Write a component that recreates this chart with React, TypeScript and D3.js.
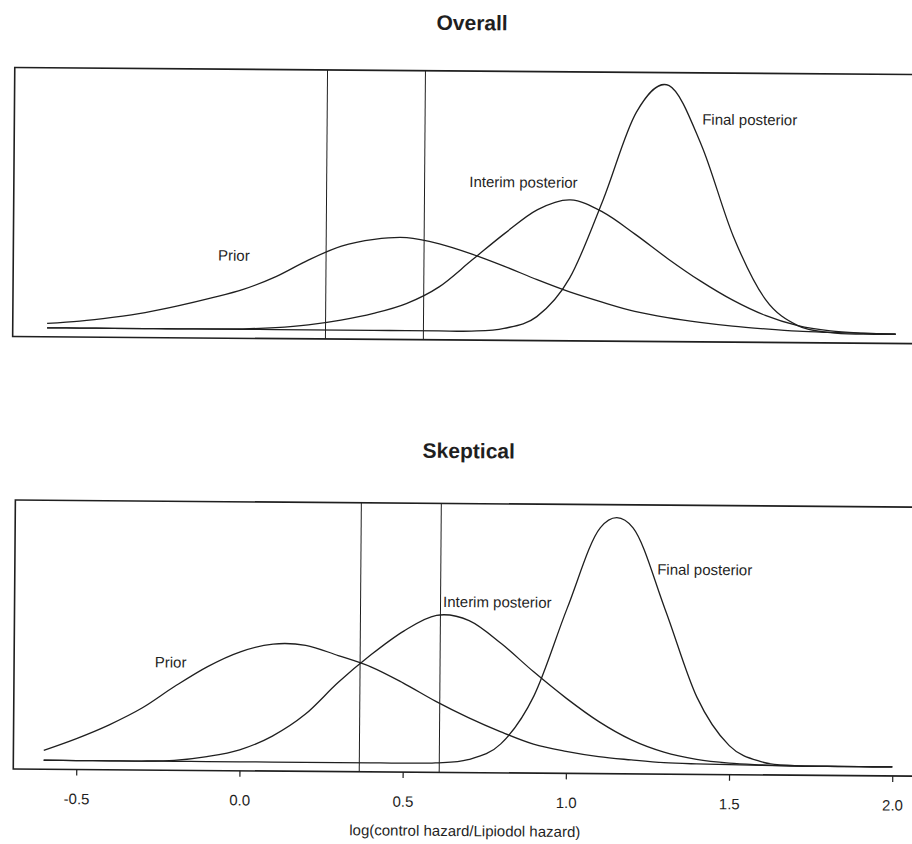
import { useEffect, useRef } from 'react'
import * as d3 from 'd3'

// log(control hazard / Lipiodol hazard) grid the densities were read at
const logHR = [
  -0.6, -0.5, -0.4, -0.3, -0.2, -0.1, 0.0, 0.1, 0.2, 0.3, 0.4, 0.5, 0.6, 0.7,
  0.8, 0.9, 1.0, 1.1, 1.2, 1.3, 1.4, 1.5, 1.6, 1.7, 1.8, 1.9, 2.0,
]

const curveNames = ['Prior', 'Interim posterior', 'Final posterior']

// Overall panel
const overallPrior = [
  0.045, 0.07, 0.11, 0.16, 0.23, 0.31, 0.4, 0.53, 0.7, 0.84, 0.91, 0.93, 0.87,
  0.77, 0.65, 0.52, 0.4, 0.3, 0.21, 0.15, 0.105, 0.07, 0.045, 0.025, 0.015,
  0.008, 0.005,
]
const overallInterim = [
  0, 0, 0, 0, 0, 0.002, 0.005, 0.02, 0.05, 0.1, 0.17, 0.27, 0.44, 0.71, 0.98,
  1.22, 1.32, 1.2, 0.98, 0.74, 0.52, 0.33, 0.18, 0.08, 0.03, 0.01, 0,
]
const overallFinal = [
  0, 0, 0, 0, 0, 0, 0, 0, 0, 0, 0, 0, 0, 0, 0.03, 0.15, 0.54, 1.32, 2.2, 2.47,
  1.88, 0.97, 0.34, 0.08, 0.013, 0, 0,
]
const overallRefs = [0.253, 0.553]

// Skeptical panel
const skepticalPrior = [
  0.1, 0.22, 0.36, 0.53, 0.75, 0.95, 1.1, 1.18, 1.17, 1.07, 0.96, 0.8, 0.62,
  0.46, 0.32, 0.2, 0.13, 0.08, 0.05, 0.025, 0.015, 0.01, 0.005, 0.003, 0.002,
  0.001, 0,
]
const skepticalInterim = [
  0, 0, 0, 0, 0.01, 0.05, 0.12, 0.26, 0.48, 0.8, 1.08, 1.32, 1.48, 1.43, 1.2,
  0.92, 0.66, 0.43, 0.25, 0.13, 0.06, 0.025, 0.01, 0, 0, 0, 0,
]
const skepticalFinal = [
  0, 0, 0, 0, 0, 0, 0, 0, 0, 0, 0, 0, 0.005, 0.04, 0.2, 0.68, 1.56, 2.37, 2.37,
  1.56, 0.68, 0.2, 0.04, 0.005, 0, 0, 0,
]
const skepticalRefs = [0.367, 0.612]

const tickValues = [-0.5, 0, 0.5, 1, 1.5, 2]

export default function App() {
  const svgRef = useRef<SVGSVGElement>(null)

  useEffect(() => {
    const svg = d3.select(svgRef.current)
    svg.selectAll('*').remove()

    const font = '"Liberation Sans", Arial, sans-serif'
    const ink = '#1f1f1f'

    const x = d3.scaleLinear().domain([-0.5, 2]).range([79, 895])

    // label anchors in data units (logHR, density)
    const panels = [
      {
        title: 'Overall',
        titleY: 30,
        base: 331,
        left: 12,
        series: [overallPrior, overallInterim, overallFinal],
        refs: overallRefs,
        spots: [
          [-0.078, 0.686],
          [0.69, 1.441],
          [1.402, 2.083],
        ],
        axis: false,
      },
      {
        title: 'Skeptical',
        titleY: 458,
        base: 763.5,
        left: 16,
        series: [skepticalPrior, skepticalInterim, skepticalFinal],
        refs: skepticalRefs,
        spots: [
          [-0.262, 0.938],
          [0.62, 1.565],
          [1.275, 1.905],
        ],
        axis: true,
      },
    ]

    // the original is a slightly skewed scan
    const root = svg.append('g').attr('transform', 'rotate(0.45 456 422)')

    panels.forEach((p) => {
      const y = d3
        .scaleLinear()
        .domain([0, 2.6])
        .range([p.base, p.base - 260])
      const boxTop = y(2.6)
      const boxBottom = y(-0.09)
      const g = root.append('g')

      g.append('text')
        .attr('x', 469)
        .attr('y', p.titleY)
        .attr('text-anchor', 'middle')
        .style('font', `bold 21px ${font}`)
        .attr('fill', ink)
        .text(p.title)

      g.append('rect')
        .attr('x', p.left)
        .attr('y', boxTop)
        .attr('width', 940)
        .attr('height', boxBottom - boxTop)
        .attr('fill', 'none')
        .attr('stroke', ink)
        .attr('stroke-width', 1.6)

      g.selectAll('line.ref')
        .data(p.refs)
        .enter()
        .append('line')
        .attr('class', 'ref')
        .attr('x1', (d) => x(d))
        .attr('x2', (d) => x(d))
        .attr('y1', boxTop)
        .attr('y2', boxBottom)
        .attr('stroke', ink)
        .attr('stroke-width', 1)

      const line = d3
        .line<number>()
        .x((_, i) => x(logHR[i]))
        .y((d) => y(d))
        .curve(d3.curveCatmullRom.alpha(0))

      g.selectAll('path.density')
        .data(p.series)
        .enter()
        .append('path')
        .attr('class', 'density')
        .attr('d', (d) => line(d))
        .attr('fill', 'none')
        .attr('stroke', ink)
        .attr('stroke-width', 1.3)

      g.selectAll('text.lab')
        .data(curveNames)
        .enter()
        .append('text')
        .attr('class', 'lab')
        .attr('x', (_, i) => x(p.spots[i][0]))
        .attr('y', (_, i) => y(p.spots[i][1]))
        .style('font', `15px ${font}`)
        .attr('fill', ink)
        .text((d) => d)

      if (p.axis) {
        const axis = d3
          .axisBottom(x)
          .tickValues(tickValues)
          .tickFormat((d) => (+d).toFixed(1))
          .tickSize(6)
          .tickPadding(18)

        const ag = g
          .append('g')
          .attr('transform', `translate(0,${boxBottom})`)
          .call(axis)
        ag.select('.domain').remove()
        ag.selectAll('line').attr('stroke', ink).attr('stroke-width', 1.2)
        ag.selectAll('text')
          .style('font', `15px ${font}`)
          .attr('fill', ink)

        g.append('text')
          .attr('x', 468)
          .attr('y', 836)
          .attr('text-anchor', 'middle')
          .style('font', `15px ${font}`)
          .attr('fill', ink)
          .text('log(control hazard/Lipiodol hazard)')
      }
    })
  }, [])

  return (
    <svg
      ref={svgRef}
      width={912}
      height={844}
      style={{ position: 'absolute', left: 0, top: 0, background: '#fff' }}
    />
  )
}
